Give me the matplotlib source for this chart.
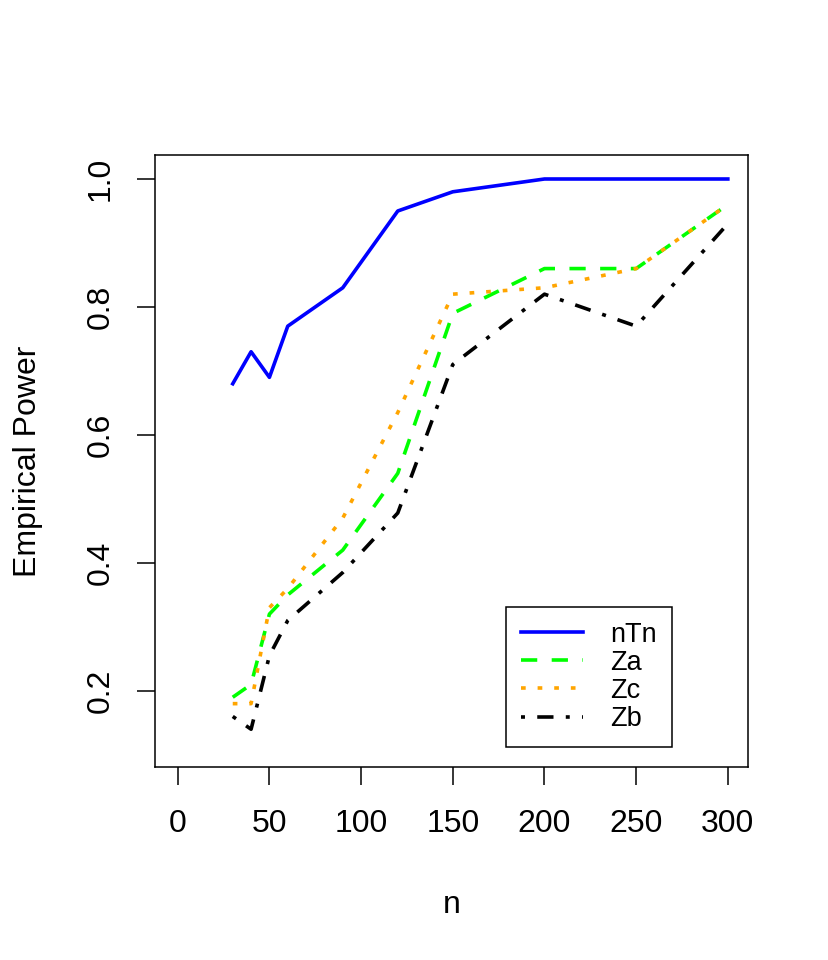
import matplotlib
matplotlib.use("Agg")
import matplotlib.pyplot as plt

plt.rcParams['font.family'] = ['Liberation Sans', 'DejaVu Sans']

n = [30, 40, 50, 60, 90, 120, 150, 200, 250, 300]
nTn = [0.68, 0.73, 0.69, 0.77, 0.83, 0.95, 0.98, 1.00, 1.00, 1.00]
Za = [0.19, 0.21, 0.32, 0.35, 0.42, 0.54, 0.79, 0.86, 0.86, 0.96]
Zc = [0.18, 0.18, 0.33, 0.36, 0.47, 0.635, 0.82, 0.83, 0.86, 0.96]
Zb = [0.16, 0.14, 0.255, 0.31, 0.385, 0.478, 0.71, 0.82, 0.77, 0.93]

fig = plt.figure(figsize=(8.29, 9.6), dpi=100)
ax = fig.add_axes([155/829, 1-767/960, 593/829, 612/960])

lw = 2.6
ax.plot(n, nTn, color='#0000ff', lw=lw, label='nTn')
ax.plot(n, Za, color='#00ff00', lw=lw, dashes=(4.5, 4.0), label='Za')
ax.plot(n, Zc, color='#ffa500', lw=lw, dashes=(1.3, 3.3), label='Zc')
ax.plot(n, Zb, color='black', lw=lw, dashes=(1.1, 3.4, 4.5, 3.4), label='Zb')

ax.set_xlim(-12.4, 311)
ax.set_ylim(0.081, 1.0375)
ax.set_xticks([0, 50, 100, 150, 200, 250, 300])
ax.set_yticks([0.2, 0.4, 0.6, 0.8, 1.0])
ax.set_yticklabels(['0.2', '0.4', '0.6', '0.8', '1.0'], rotation=90, va='center')

for s in ax.spines.values():
    s.set_linewidth(1.1)
ax.tick_params(length=13, width=1.1, labelsize=23)
ax.tick_params(axis='x', pad=17)
ax.tick_params(axis='y', pad=15)

ax.set_xlabel('n', fontsize=23, labelpad=37)
ax.set_ylabel('Empirical Power', fontsize=23, labelpad=31)

leg = ax.legend(loc='lower left', bbox_to_anchor=(0.592, 0.0327), fontsize=19.5,
                handlelength=2.3, handletextpad=1.0, labelspacing=0.08,
                borderpad=0.55, borderaxespad=0, fancybox=False,
                edgecolor='black', framealpha=1)
leg.get_frame().set_linewidth(1.1)

fig.savefig('out.png', dpi=100)
